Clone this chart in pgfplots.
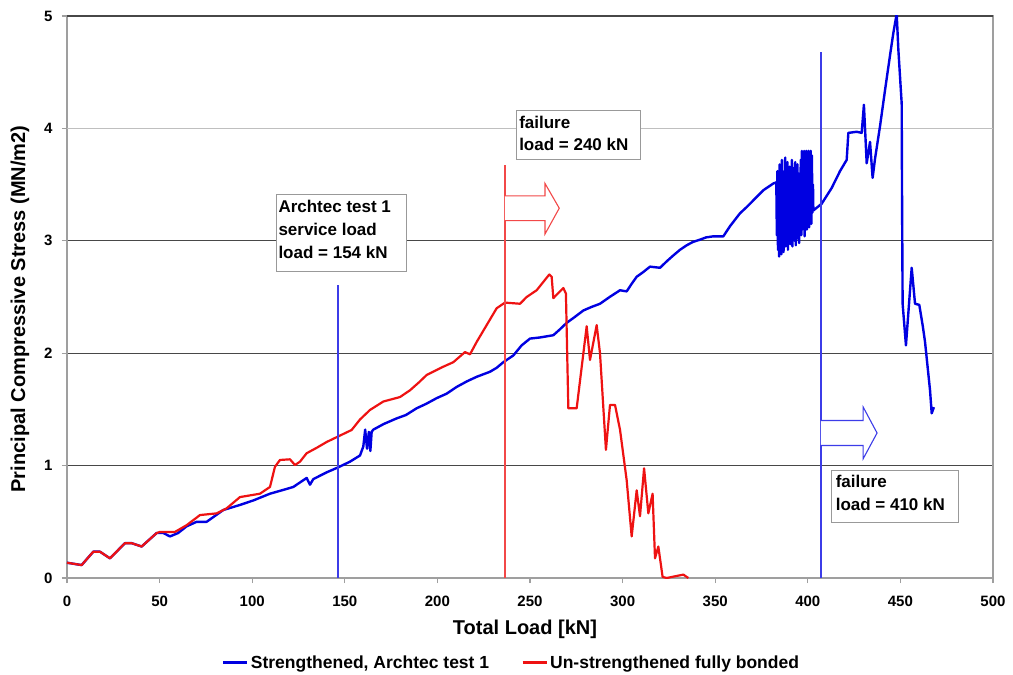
\documentclass[border=0pt]{standalone}
\usepackage{pgfplots}
\pgfplotsset{compat=1.18}
\usepackage{fontspec}
\setmainfont{Liberation Sans}

\definecolor{strong}{RGB}{0,0,225}
\definecolor{unstrong}{RGB}{238,18,18}
\definecolor{markblue}{RGB}{60,60,232}
\definecolor{markred}{RGB}{242,72,72}

\begin{document}
\begin{tikzpicture}
\begin{axis}[
  at={(0pt,0pt)}, anchor=south west,
  scale only axis, width=926pt, height=562pt,
  xmin=0, xmax=500, ymin=0, ymax=5,
  xtick={0,50,...,500}, ytick={0,1,...,5},
  axis line style={draw=gray!75, line width=1.4pt},
  tick align=outside, major tick length=5pt,
  tick style={gray!75, line width=1.2pt},
  xtick pos=bottom, ytick pos=left,
  ymajorgrids, major grid style={black!72, line width=1.2pt},
  /pgf/number format/assume math mode=true,
  ticklabel style={font=\fontsize{15}{15}\selectfont\bfseries},
  xticklabel style={yshift=-9pt},
  yticklabel style={xshift=-6pt},
  xlabel={Total Load [kN]},
  xlabel style={font=\fontsize{20}{20}\selectfont\bfseries,
    at={(axis description cs:0.4946,-0.091)}, anchor=center},
  ylabel={Principal Compressive Stress (MN/m2)},
  ylabel style={font=\fontsize{20}{20}\selectfont\bfseries,
    at={(axis description cs:-0.0508,0.4786)}, anchor=center},
  legend columns=2,
  legend style={draw=none, fill=none,
    font=\fontsize{17.5}{17.5}\selectfont\bfseries,
    at={(axis description cs:0.480,-0.151)}, anchor=center,
    /tikz/every even column/.append style={column sep=30pt}},
  legend image code/.code={\draw[#1, line width=3pt] (2pt,0pt) -- (26pt,0pt);},
]
% light grid line at 4 MN/m2
\draw[gray!50, line width=1.2pt] (axis cs:0,4) -- (axis cs:500,4);
\draw[black!72, line width=1.2pt] (axis cs:0,5) -- (axis cs:500,5);

% strengthened specimen
\addplot[strong, line width=2.4pt, line join=round] coordinates {
(0,0.136) (7.9,0.115) (14.2,0.234) (17.8,0.234) (23.2,0.175) (31.3,0.31)
(34.9,0.31) (40.3,0.28) (48.4,0.40) (52,0.40) (55.6,0.37) (60,0.40)
(64.6,0.46) (70,0.50) (75.4,0.50) (84.4,0.605) (93.4,0.65) (100.6,0.69)
(109.6,0.75) (116,0.78) (122.2,0.81) (129.4,0.89) (131.2,0.83) (133,0.88)
(140.2,0.94) (146.5,0.985) (152.8,1.035) (158.2,1.09) (160,1.17) (161,1.32)
(162,1.15) (163,1.30) (163.8,1.13) (164.5,1.30) (165.4,1.32) (171,1.37)
(178,1.42) (183,1.45) (188.8,1.51) (194,1.55) (199.6,1.60) (205,1.64)
(210.4,1.70) (216,1.75) (221.2,1.79) (228.4,1.835) (232,1.87)
(235.6,1.92) (241,1.98) (245.5,2.07) (250,2.13) (255.4,2.14) (262.6,2.16)
(266,2.21) (269.8,2.27) (274,2.32) (278.8,2.38) (283,2.41) (287.8,2.44)
(293,2.50) (298.6,2.56) (302.2,2.55) (305,2.62) (307.6,2.68) (311,2.72)
(314.8,2.77) (320.2,2.76) (324,2.82) (327.4,2.87) (331,2.92) (334.6,2.96)
(338,2.99) (341.8,3.01) (345,3.03) (349,3.04)
(354.4,3.04) (358,3.13) (363.4,3.245) (367,3.30) (370.6,3.36) (376,3.45)
(381.4,3.51) (383,3.52)
(383.3,3.05) (383.6,3.62) (383.9,2.92) (384.2,3.55) (384.5,2.86) (384.8,3.68)
(385.1,2.95) (385.4,3.45) (385.7,2.88) (386,3.72) (386.3,3.0) (386.6,3.5)
(386.9,2.9) (387.2,3.62) (387.5,3.02) (387.8,3.74) (388.1,2.95) (388.4,3.55)
(388.7,3.08) (389,3.70) (389.3,2.92) (389.6,3.48) (389.9,3.05) (390.2,3.66)
(390.5,2.97) (390.8,3.58) (391.1,3.1) (391.4,3.72) (391.7,2.95) (392,3.5)
(392.3,3.12) (392.6,3.65) (392.9,3.0) (393.2,3.7) (393.5,2.96) (393.8,3.52)
(394.1,3.14) (394.4,3.68) (394.7,3.02) (395,3.6) (395.3,2.98) (395.6,3.55)
(395.9,3.15) (396.2,3.72) (396.5,3.05) (396.8,3.8) (397.1,3.1) (397.4,3.78)
(397.7,3.2) (398,3.8) (398.3,3.04) (398.6,3.76) (398.9,3.22) (399.2,3.8)
(399.5,3.1) (399.8,3.78) (400.1,3.25) (400.4,3.8) (400.7,3.12) (401,3.79)
(401.3,3.2) (401.6,3.8) (401.9,3.15) (402.2,3.76) (402.5,3.25) (402.8,3.5)
(403,3.27) (407.5,3.33) (412.9,3.47)
(417.4,3.62) (421,3.72) (421.9,3.96) (426.4,3.97) (429.1,3.96) (430.3,4.21)
(431.8,3.69) (433.6,3.88) (435,3.56) (436.3,3.73) (439,4.02) (441.7,4.34)
(444.4,4.65) (446.2,4.85) (448,5.02) (448.9,4.70) (450.7,4.22) (450.9,3.36)
(451.2,2.44) (453,2.07) (456.1,2.76) (457.9,2.44) (460.2,2.43) (462,2.25)
(463.3,2.10) (466,1.67) (466.9,1.465) (468.1,1.52)
};
\addlegendentry{Strengthened, Archtec test 1}

% un-strengthened specimen
\addplot[unstrong, line width=2.2pt, line join=round] coordinates {
(0,0.136) (7.9,0.115) (14.2,0.234) (17.8,0.234) (23.2,0.175) (31.3,0.31)
(34.9,0.31) (40.3,0.28) (48.4,0.40) (50.2,0.41) (58.3,0.41) (64.6,0.47)
(71.8,0.56) (80.8,0.575) (86.2,0.62) (93.4,0.72) (104.2,0.75) (109.6,0.81)
(112.3,0.99) (115,1.05) (120.4,1.056) (123.1,1.005) (125.8,1.035) (129.4,1.11)
(135,1.16) (140.2,1.21) (146.5,1.26) (153.7,1.317) (158.2,1.41) (163.6,1.495)
(170.8,1.57) (179.8,1.61) (185.2,1.67) (190,1.74) (194.2,1.806) (203.2,1.88)
(208.6,1.92) (214.9,2.01) (217.6,1.99) (221.2,2.10) (226.6,2.25) (232,2.40)
(236.5,2.45) (244.6,2.44) (248.2,2.50) (253.6,2.56) (260.4,2.70)
(261.7,2.68) (262.6,2.49) (268,2.58) (269.4,2.53) (270.7,1.51) (275.2,1.51)
(280.6,2.24) (282.4,1.94) (286,2.25) (287.8,2.0) (291,1.14) (293.2,1.54)
(295.9,1.54) (298.6,1.32) (302.2,0.87) (304.9,0.37) (307.6,0.78)
(309.4,0.55) (311.6,0.976) (313.9,0.575) (316.2,0.75) (317.5,0.175)
(319.3,0.28) (321.6,0.01) (323.8,0) (332.8,0.03) (335.5,0)
};
\addlegendentry{Un-strengthened fully bonded}

% load markers
\addplot[markblue, line width=1.2pt, forget plot] coordinates {(146.3,0) (146.3,2.61)};
\addplot[markred, line width=1.2pt, forget plot] coordinates {(236.5,0) (236.5,3.67)};
\addplot[markblue, line width=1.2pt, forget plot] coordinates {(407.1,0) (407.1,4.68)};

% direction arrows beyond the failure loads
\addplot[markred, line width=1.1pt, fill=white, forget plot] coordinates {
(236.5,3.40) (258.1,3.40) (258.1,3.51) (265.8,3.29) (258.1,3.06)
(258.1,3.18) (236.5,3.18)};
\addplot[markblue, line width=1.1pt, fill=white, forget plot] coordinates {
(407.1,1.401) (429.9,1.401) (429.9,1.521) (437.4,1.29) (429.9,1.061)
(429.9,1.179) (407.1,1.179)};

% annotation boxes
\draw[gray!80, line width=0.9pt, fill=white] (axis cs:242.8,3.725) rectangle (axis cs:309.4,4.157);
\draw[gray!80, line width=0.9pt, fill=white] (axis cs:112.9,2.725) rectangle (axis cs:183.4,3.416);
\draw[gray!80, line width=0.9pt, fill=white] (axis cs:412.9,0.498) rectangle (axis cs:481.2,0.956);

\begin{scope}[every node/.style={anchor=base west, inner sep=0pt,
    font=\fontsize{17}{17}\selectfont\bfseries}]
\node at (axis cs:244.1,4.001) {failure};
\node at (axis cs:244.1,3.800) {load = 240 kN};
\node at (axis cs:114.1,3.250) {Archtec test 1};
\node at (axis cs:114.1,3.045) {service load};
\node at (axis cs:114.1,2.844) {load = 154 kN};
\node at (axis cs:415.0,0.807) {failure};
\node at (axis cs:415.0,0.600) {load = 410 kN};
\end{scope}
\end{axis}
\pgfresetboundingbox
\path[use as bounding box] (-67pt,-97pt) rectangle (946pt,578pt);
\end{tikzpicture}
\end{document}
